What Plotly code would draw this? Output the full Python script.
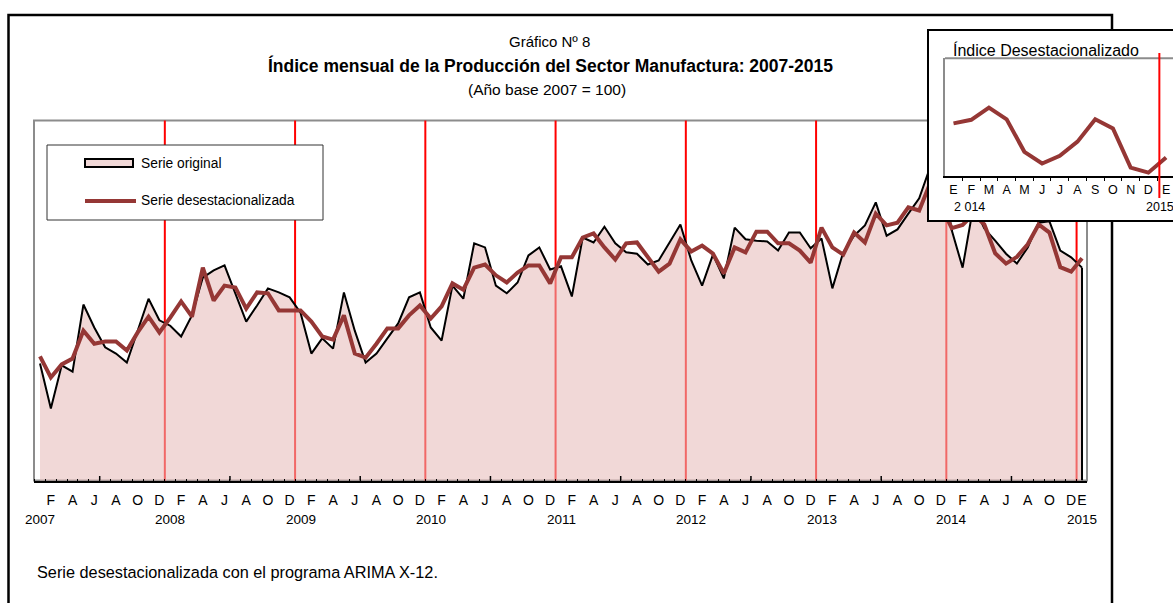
import plotly.graph_objects as go

W, H = 1173, 603

# ---------------- data ----------------
month_letters = ["E", "F", "M", "A", "M", "J", "J", "A", "S", "O", "N", "D"]
years = [2007, 2008, 2009, 2010, 2011, 2012, 2013, 2014, 2015]

# Índice mensual, Enero 2007 ... Enero 2015 (Año base 2007 = 100)
serie_original = [
    96.0, 86.0, 95.6, 94.2, 109.1, 104.0, 99.6, 98.2, 96.2, 103.3, 110.4, 105.6,
    104.4, 102.0, 106.7, 115.1, 116.7, 117.8, 111.6, 105.3, 108.9, 112.7, 111.8, 110.7,
    107.3, 98.2, 101.6, 99.3, 111.8, 103.3, 96.2, 98.2, 101.6, 104.9, 110.7, 111.8,
    104.0, 101.1, 113.3, 110.4, 122.7, 121.8, 113.3, 111.6, 114.0, 120.0, 121.8, 116.9,
    117.6, 110.9, 124.0, 122.9, 126.4, 122.7, 120.7, 120.4, 118.0, 118.9, 122.9, 126.9,
    118.9, 113.3, 120.2, 114.9, 126.2, 123.6, 123.3, 123.1, 121.1, 125.1, 125.1, 121.6,
    123.8, 112.7, 120.7, 124.4, 126.7, 131.8, 124.4, 125.8, 129.3, 132.7, 139.6, 140.0,
    125.6, 117.3, 131.1, 126.0, 123.3, 120.4, 118.2, 121.8, 127.3, 127.6, 121.1, 119.6,
    117.3,
]
serie_desest = [
    97.6, 92.9, 95.8, 97.1, 103.3, 100.4, 100.9, 100.9, 98.9, 102.9, 106.4, 102.9,
    106.2, 109.8, 106.4, 117.3, 110.0, 113.3, 112.9, 108.2, 111.8, 111.6, 107.8, 107.8,
    107.8, 105.3, 102.0, 101.3, 106.7, 98.2, 97.3, 100.4, 103.8, 103.8, 106.7, 108.9,
    106.0, 108.7, 113.8, 112.4, 117.3, 118.0, 115.6, 114.0, 116.2, 117.8, 117.8, 113.8,
    119.6, 119.6, 124.0, 124.9, 121.8, 119.1, 122.7, 122.9, 119.6, 116.4, 118.2, 123.6,
    120.9, 122.2, 120.4, 116.0, 121.8, 120.7, 125.3, 125.3, 122.7, 122.7, 121.1, 118.4,
    126.2, 121.8, 120.2, 125.1, 122.9, 129.3, 126.7, 127.3, 130.7, 130.0, 136.0, 131.1,
    126.1, 126.8, 129.2, 126.9, 120.5, 118.2, 119.7, 122.5, 126.9, 125.1, 117.4, 116.4,
    119.4,
]

n = len(serie_original)
idx = list(range(n))
labels_month = [month_letters[i % 12] for i in idx]

# inset: 2014 (E..D) + Enero 2015
inset_start = (2014 - 2007) * 12
inset_idx = list(range(n - inset_start))
inset_vals = serie_desest[inset_start:]
inset_labels = [month_letters[i % 12] for i in inset_idx]

# ---------------- styles ----------------
REG = "Liberation Sans, Arial, sans-serif"
C_DES = "#953735"
C_FILL = "rgba(230,185,184,0.56)"
C_GRAY = "#8c8c8c"

def fx(px):
    return px / W

def fy(py):
    return 1 - py / H

YMIN, YMAX = 70, 150
X_LO, X_HI = -0.553, 96.46

fig = go.Figure()

# original series (area)
fig.add_trace(go.Scatter(
    x=idx, y=serie_original, mode="lines", fill="tozeroy",
    fillcolor=C_FILL, line=dict(color="black", width=2),
    hoverinfo="skip", showlegend=False))
# closing vertical of the area at the last month
fig.add_trace(go.Scatter(
    x=[idx[-1], idx[-1]], y=[YMIN, serie_original[-1]], mode="lines",
    line=dict(color="black", width=2), hoverinfo="skip", showlegend=False))
# seasonally adjusted series
fig.add_trace(go.Scatter(
    x=idx, y=serie_desest, mode="lines",
    line=dict(color=C_DES, width=4), hoverinfo="skip", showlegend=False))

# cover subplot (white background of the inset box)
fig.add_trace(go.Scatter(
    x=[0], y=[0], xaxis="x2", yaxis="y2", mode="markers",
    marker=dict(opacity=0), hoverinfo="skip", showlegend=False))

# inset chart
fig.add_trace(go.Scatter(
    x=inset_idx, y=inset_vals, xaxis="x3", yaxis="y3", mode="lines",
    line=dict(color=C_DES, width=4), hoverinfo="skip", showlegend=False))

tick_main = [i for i in idx if (i % 12) % 2 == 1] + [idx[-1]]

shapes = []
# outer frame
shapes.append(dict(type="rect", xref="paper", yref="paper",
                   x0=fx(8.5), x1=fx(1112), y0=fy(640), y1=fy(15),
                   line=dict(color="black", width=2.5), layer="below"))
# plot area frame
shapes.append(dict(type="rect", xref="paper", yref="paper",
                   x0=fx(34), x1=fx(1087), y0=fy(480.5), y1=fy(120.5),
                   line=dict(color=C_GRAY, width=2), layer="below"))
# red year separators
for k in range(1, len(years)):
    xs = k * 12 - 0.5
    shapes.append(dict(type="line", xref="x", yref="paper",
                       x0=xs, x1=xs, y0=fy(480.5), y1=fy(120.5),
                       line=dict(color="#ff0000", width=2), layer="below"))
# half-year tick marks
for k in range(len(years) - 1):
    xs = k * 12 + 5.5
    shapes.append(dict(type="line", xref="x", yref="paper",
                       x0=xs, x1=xs, y0=fy(480.5), y1=fy(476),
                       line=dict(color="black", width=1.5), layer="above"))

# legend
shapes.append(dict(type="rect", xref="paper", yref="paper",
                   x0=fx(47), x1=fx(323), y0=fy(220), y1=fy(145),
                   line=dict(color="#333333", width=1), fillcolor="white", layer="above"))
shapes.append(dict(type="rect", xref="paper", yref="paper",
                   x0=fx(85), x1=fx(133), y0=fy(167), y1=fy(159),
                   line=dict(color="black", width=2), fillcolor=C_FILL, layer="above"))
shapes.append(dict(type="line", xref="paper", yref="paper",
                   x0=fx(85), x1=fx(136), y0=fy(201), y1=fy(201),
                   line=dict(color=C_DES, width=4), layer="above"))

# inset decorations
shapes.append(dict(type="line", xref="paper", yref="paper",
                   x0=fx(945), x1=1.0, y0=fy(58.3), y1=fy(58.3),
                   line=dict(color=C_GRAY, width=2), layer="above"))
shapes.append(dict(type="line", xref="x3", yref="paper",
                   x0=11.62, x1=11.62, y0=fy(198), y1=fy(53),
                   line=dict(color="#ff0000", width=2), layer="above"))
shapes.append(dict(type="rect", xref="paper", yref="paper",
                   x0=fx(928), x1=fx(1195), y0=fy(221), y1=fy(30),
                   line=dict(color="black", width=2), layer="above"))

annotations = []
def note(text, x, y, size, xanchor="center", xref="paper", bold=False):
    annotations.append(dict(text=f"<b>{text}</b>" if bold else text,
                            x=x, y=y, xref=xref, yref="paper",
                            showarrow=False, xanchor=xanchor, yanchor="middle",
                            font=dict(family=REG, size=size, color="black")))

note("Gráfico Nº 8", fx(549), fy(41), 15)
note("Índice mensual de la Producción del Sector Manufactura: 2007-2015", fx(550), fy(66), 17.5, bold=True)
note("(Año base 2007 = 100)", fx(547), fy(89), 15.5)
note("Serie desestacionalizada con el programa ARIMA X-12.", fx(35), fy(572), 16.3, xanchor="left")
for k, yr in enumerate(years):
    note(str(yr), k * 12, fy(519), 13.5, xref="x")
note("Serie original", fx(139), fy(163), 13.8, xanchor="left")
note("Serie desestacionalizada", fx(139), fy(201), 13.8, xanchor="left")
note("Índice Desestacionalizado", fx(951), fy(50), 16, xanchor="left")
note("2 014", fx(969), fy(207), 12.5)
note("2015", fx(1160), fy(207), 12.5)

fig.update_layout(
    width=W, height=H, margin=dict(l=0, r=0, t=0, b=0),
    paper_bgcolor="white", plot_bgcolor="white",
    showlegend=False,
    xaxis=dict(domain=[fx(34), fx(1087)], range=[X_LO, X_HI], anchor="y",
               tickmode="array", tickvals=tick_main,
               ticktext=[labels_month[i] for i in tick_main],
               tickangle=0, ticks="", showgrid=False, zeroline=False,
               showline=True, linecolor="black", linewidth=2,
               tickfont=dict(family=REG, size=14, color="black"),
               ticklabelstandoff=6,
               minor=dict(tickmode="array", tickvals=[i + 0.5 for i in range(-1, n - 1)],
                          ticks="inside", ticklen=2, tickcolor="black", tickwidth=1)),
    yaxis=dict(domain=[fy(480.5), fy(120.5)], range=[YMIN, YMAX], anchor="x",
               showticklabels=False, ticks="", showgrid=False, zeroline=False, showline=False),
    xaxis2=dict(domain=[fx(928), 1.0], anchor="y2", visible=False, range=[0, 1]),
    yaxis2=dict(domain=[fy(221), fy(30)], anchor="x2", visible=False, range=[0, 1]),
    xaxis3=dict(domain=[fx(945), 1.0], anchor="y3", range=[-0.48, 12.39],
                tickmode="array", tickvals=inset_idx, ticktext=inset_labels,
                tickangle=0, ticks="", showgrid=False, zeroline=False,
                showline=True, linecolor="black", linewidth=1.5,
                tickfont=dict(family=REG, size=12.5, color="black"),
                ticklabelstandoff=2,
                minor=dict(tickmode="array", tickvals=[i - 0.5 for i in inset_idx],
                           ticks="outside", ticklen=4, tickcolor="black", tickwidth=1)),
    yaxis3=dict(domain=[fy(175.7), fy(58.3)], anchor="x3", range=[115.8, 138.9],
                showticklabels=False, ticks="", showgrid=False, zeroline=False,
                showline=True, linecolor=C_GRAY, linewidth=2),
    shapes=shapes, annotations=annotations,
)

# remove the default 8px page margin so the figure fills the window exactly
fig.write_html(
    "out.html",
    config={"displayModeBar": False},
    post_script=("document.body.style.margin='0';"
                 "document.body.style.overflow='hidden';"
                 "document.documentElement.style.overflow='hidden';"),
)
